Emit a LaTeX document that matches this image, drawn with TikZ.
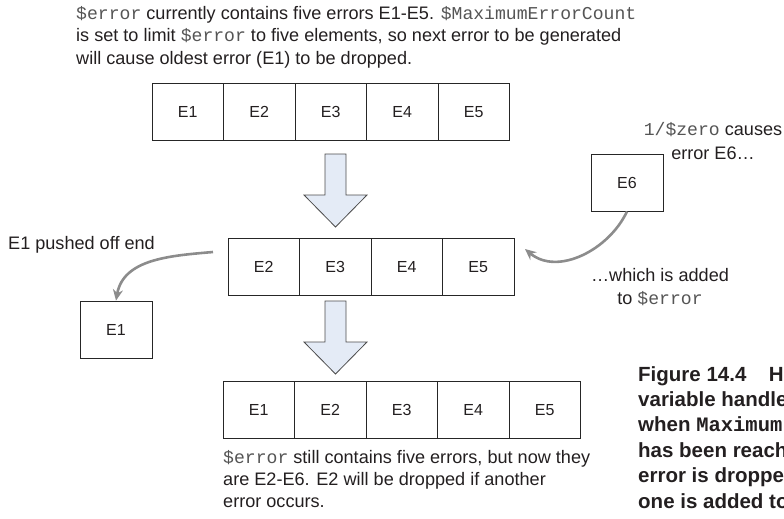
\documentclass[tikz,border=0pt]{standalone}
\usepackage{fontspec}
\setmainfont{Liberation Sans}
\newfontfamily\codefont{Liberation Mono}
\usetikzlibrary{arrows.meta}
\definecolor{textogris}{HTML}{231F20}
\definecolor{codigogris}{HTML}{555555}
\definecolor{flechaazul}{HTML}{E4EBF6}
\definecolor{curvagris}{HTML}{8C8C8C}
\newcommand{\code}[1]{{\codefont\color{codigogris}#1}}
\tikzset{
  celda/.style={draw=black!85, line width=0.8pt, minimum width=71.5pt, minimum height=57pt,
    inner sep=0pt, text height=11.6pt, text depth=0pt, text=textogris,
    font=\fontsize{16}{19}\selectfont},
  nota/.style={inner sep=0pt, text=textogris, font=\fontsize{18.1}{22}\selectfont},
  bloque/.style={draw=black!70, line width=0.8pt, fill=flechaazul},
  curva/.style={draw=curvagris, line width=2.6pt, -{Stealth[length=11pt,width=10pt]}},
}
% flecha de bloque: x del centro, y superior
\newcommand{\flechabloque}[2]{%
  \draw[bloque] (#1-10.5,#2) -- (#1+10.5,#2) -- (#1+10.5,#2+41) -- (#1+31.5,#2+41)
    -- (#1,#2+73) -- (#1-31.5,#2+41) -- (#1-10.5,#2+41) -- cycle;}
\begin{document}
\begin{tikzpicture}[x=1pt,y=-1pt]
  \useasboundingbox (0,0) rectangle (784,519);

  % 1. Fila superior (cinco errores)
  \foreach \e [count=\k] in {E1,E2,E3,E4,E5}
    \node[celda] (sup\k) at ({152+71.5*(\k-0.5)},111.5) {\e};

  % 2. Fila intermedia (E1 ya salio)
  \foreach \e [count=\k] in {E2,E3,E4,E5}
    \node[celda] (med\k) at ({228+71.5*(\k-0.5)},267) {\e};

  % 3. Fila inferior
  \foreach \e [count=\k] in {E1,E2,E3,E4,E5}
    \node[celda] (inf\k) at ({223+71.5*(\k-0.5)},410) {\e};

  % Cajas sueltas
  \node[celda, minimum width=72pt] (caida) at (116,329.5) {E1};
  \node[celda, minimum width=72pt] (nuevo) at (627,182.5) {E6};

  % 4. Flechas de bloque
  \flechabloque{335.5}{154}
  \flechabloque{335.5}{301}

  % 5. Flechas curvas
  \coordinate (salida) at (213,252);
  \coordinate (entrada) at (525,249);
  \draw[curva] (salida) to[out=185,in=80] (caida.north);
  \draw[curva] (nuevo.south) to[out=245,in=-40] (entrada);

  % 6. Textos (el ancla base es la ultima linea)
  \node[nota, anchor=base west, align=left] (arriba) at (76,64)
    {\code{\$error} currently contains five errors E1-E5. \code{\$MaximumErrorCount}\\
     is set to limit \code{\$error} to five elements, so next error to be generated\\
     will cause oldest error (E1) to be dropped.};
  \node[nota, anchor=base west] (empujado) at (8,249) {E1 pushed off end};
  \node[nota, anchor=base, align=center, font=\fontsize{18.1}{24}\selectfont] (causa) at (713,159)
    {\code{1/\$zero} causes\\error E6…};
  \node[nota, anchor=base, align=center, font=\fontsize{18.1}{23}\selectfont] (agregado) at (660,304)
    {…which is added\\to \code{\$error}};
  \node[nota, anchor=base west, align=left] (abajo) at (223,507.5)
    {\code{\$error} still contains five errors, but now they\\
     are E2-E6. E2 will be dropped if another\\
     error occurs.};

  % Pie de figura (cortado por el borde)
  \node[inner sep=0pt, anchor=base west, align=left, text=textogris,
    font=\bfseries\fontsize{20.5}{25.4}\selectfont] (pie) at (638,508)
    {Figure 14.4\hspace{1.1em}How\\variable handles\\when {\codefont Maximum}\\has been reached\\error is dropped\\one is added to};
\end{tikzpicture}
\end{document}
